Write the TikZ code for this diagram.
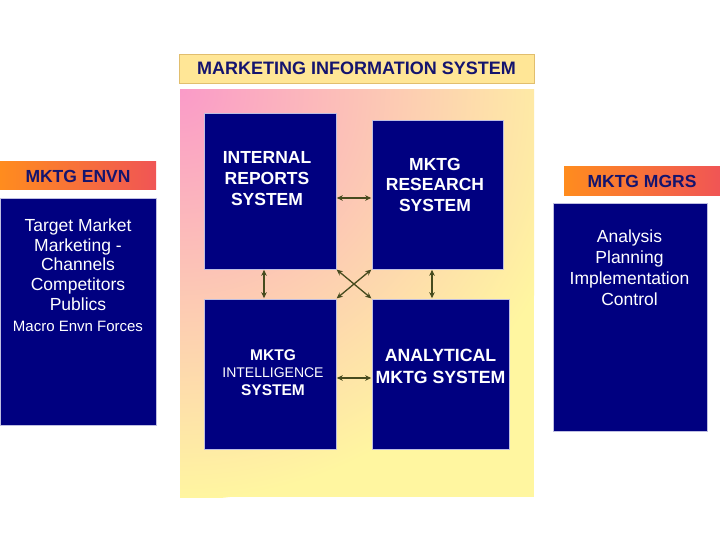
\documentclass[tikz,border=0pt]{standalone}
\usepackage{fontspec}
\setmainfont{Liberation Sans}
\usetikzlibrary{arrows.meta,calc}
\definecolor{navybox}{RGB}{0,0,128}
\definecolor{navytext}{RGB}{20,20,110}
\definecolor{arrowcol}{RGB}{70,75,30}
\definecolor{pinkc}{RGB}{250,155,200}
\definecolor{yellc}{RGB}{255,246,160}
\definecolor{titlefill}{RGB}{255,230,150}
\definecolor{titleedge}{RGB}{225,190,110}
\definecolor{orangec}{RGB}{255,140,30}
\definecolor{redc}{RGB}{240,85,85}
\definecolor{boxedge}{RGB}{190,190,225}
\begin{document}
\begin{tikzpicture}[x=1pt,y=-1pt,
  sysbox/.style={fill=navybox, draw=boxedge, line width=0.6pt, inner sep=0pt},
  hdr/.style={left color=orangec, right color=redc, inner sep=0pt, text=navytext,
    font=\fontsize{17.5}{21}\selectfont\bfseries},
  wtext/.style={text=white, align=center, inner sep=0pt, anchor=north},
  link/.style={arrowcol, line width=1.3pt, shorten <=0.5pt, shorten >=0.5pt,
    {Stealth[length=6pt,width=5.5pt]}-{Stealth[length=6pt,width=5.5pt]}}
]
\useasboundingbox (0,0) rectangle (720,540);
\fill[white] (0,0) rectangle (720,540);

% title
\node[fill=titlefill, draw=titleedge, line width=0.8pt, minimum width=355pt,
  minimum height=29pt, inner sep=0pt, text=navytext,
  font=\fontsize{18}{21}\selectfont\bfseries] (title) at (356.5,68.5)
  {MARKETING INFORMATION SYSTEM};

% gradient background
\begin{scope}
\clip (180,90) rectangle (534,497);
\fill[yellc] (180,90) rectangle (534,497);
\shade[inner color=pinkc, outer color=yellc] (180,90) circle[radius=410pt];
\end{scope}

% system boxes
\node[sysbox, minimum width=132pt, minimum height=156pt] (ir) at (270,191) {};
\node[sysbox, minimum width=131pt, minimum height=149pt] (mr) at (437.5,194.5) {};
\node[sysbox, minimum width=132pt, minimum height=150pt] (mi) at (270,374) {};
\node[sysbox, minimum width=137pt, minimum height=150pt] (am) at (440.5,374) {};

\node[wtext, font=\fontsize{17.5}{21}\selectfont\bfseries] (irt) at (267,151)
  {INTERNAL\\REPORTS\\SYSTEM};
\node[wtext, font=\fontsize{17.5}{20.5}\selectfont\bfseries] (mrt) at (435,158)
  {MKTG\\RESEARCH\\SYSTEM};
\node[wtext, font=\fontsize{15.5}{17.5}\selectfont] (mit) at (273,349)
  {{\bfseries MKTG}\\{\fontsize{14}{17.5}\selectfont INTELLIGENCE}\\{\bfseries SYSTEM}};
\node[wtext, font=\fontsize{17.7}{22}\selectfont\bfseries] (amt) at (440.5,349)
  {ANALYTICAL\\MKTG SYSTEM};

% connectors
\draw[link] ([yshift=-7pt]ir.east) -- ([yshift=-7pt]ir.east -| mr.west);
\draw[link] ([yshift=-4pt]mi.east) -- ([yshift=-4pt]mi.east -| am.west);
\draw[link] ([xshift=-6pt]ir.south) -- ([xshift=-6pt]ir.south |- mi.north);
\draw[link] ([xshift=-5.5pt]mr.south) -- ([xshift=-5.5pt]mr.south |- am.north);
\draw[link] (ir.south east) -- (am.north west);
\draw[link] (mr.south west) -- (mi.north east);

% environment panel
\node[hdr, minimum width=156pt, minimum height=28pt] (envh) at (78,176) {MKTG ENVN};
\node[sysbox, minimum width=156pt, minimum height=227pt] (env) at (78,311.5) {};
\node[wtext, font=\fontsize{17.5}{19.85}\selectfont] (envt) at (78,218.3)
  {Target Market\\Marketing -\\Channels\\Competitors\\Publics\\[1.5pt]
   {\fontsize{15}{17}\selectfont Macro Envn Forces}};

% managers panel
\node[hdr, minimum width=156pt, minimum height=29pt] (mgrh) at (642,181.5) {MKTG MGRS};
\node[sysbox, minimum width=154pt, minimum height=228pt] (mgr) at (630,317) {};
\node[wtext, font=\fontsize{17.5}{21}\selectfont] (mgrt) at (629.5,230)
  {Analysis\\Planning\\Implementation\\Control};
\end{tikzpicture}
\end{document}
